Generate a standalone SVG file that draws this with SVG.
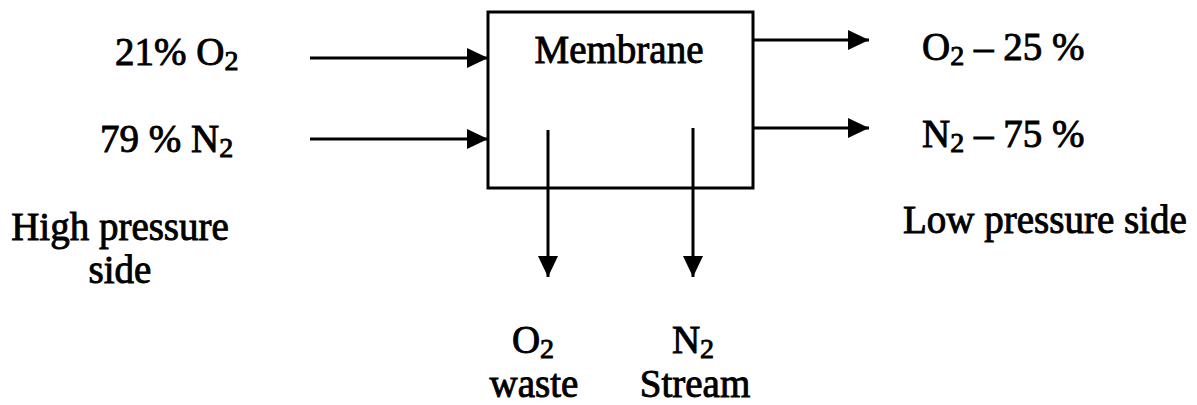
<svg xmlns="http://www.w3.org/2000/svg" width="1197" height="405" viewBox="0 0 1197 405">
<style>
text{font-family:"Liberation Serif","Times New Roman",serif;font-size:39px;fill:#000;stroke:#000;stroke-width:0.9}
.sub{font-size:28px}
.ln{stroke:#000;stroke-width:3;fill:none}
</style>
<defs>
<marker id="ah" markerUnits="userSpaceOnUse" markerWidth="22" markerHeight="22" refX="21" refY="11" orient="auto">
<path d="M0,1 L21,11 L0,21 z" fill="#000"/>
</marker>
</defs>
<rect width="1197" height="405" fill="#fff"/>
<g id="membrane">
<rect x="488" y="12" width="265" height="176" class="ln"/>
<text x="619" y="63" text-anchor="middle">Membrane</text>
</g>
<g id="in-o2"><text x="115" y="65">21% O<tspan class="sub" dy="5">2</tspan></text></g>
<g id="in-n2"><text x="100" y="152">79 % N<tspan class="sub" dy="5">2</tspan></text></g>
<g id="high-side"><text x="120" y="240" text-anchor="middle">High pressure</text><text x="120" y="283" text-anchor="middle">side</text></g>
<g id="out-o2"><text x="922" y="60">O<tspan class="sub" dy="5">2</tspan><tspan dy="-5"> – 25 %</tspan></text></g>
<g id="out-n2"><text x="922" y="147">N<tspan class="sub" dy="5">2</tspan><tspan dy="-5"> – 75 %</tspan></text></g>
<g id="low-side"><text x="903" y="233">Low pressure side</text></g>
<g id="o2-waste"><text x="533" y="353" text-anchor="middle">O<tspan class="sub" dy="5">2</tspan></text><text x="534" y="397" text-anchor="middle">waste</text></g>
<g id="n2-stream"><text x="693" y="353" text-anchor="middle">N<tspan class="sub" dy="5">2</tspan></text><text x="695" y="397" text-anchor="middle">Stream</text></g>
<g id="connectors">
<line x1="310" y1="58" x2="488" y2="58" class="ln" marker-end="url(#ah)"/>
<line x1="310" y1="139" x2="488" y2="139" class="ln" marker-end="url(#ah)"/>
<line x1="753" y1="40" x2="869" y2="40" class="ln" marker-end="url(#ah)"/>
<line x1="753" y1="128" x2="869" y2="128" class="ln" marker-end="url(#ah)"/>
<line x1="548" y1="130" x2="548" y2="277" class="ln" marker-end="url(#ah)"/>
<line x1="693" y1="128" x2="693" y2="277" class="ln" marker-end="url(#ah)"/>
</g>
</svg>
